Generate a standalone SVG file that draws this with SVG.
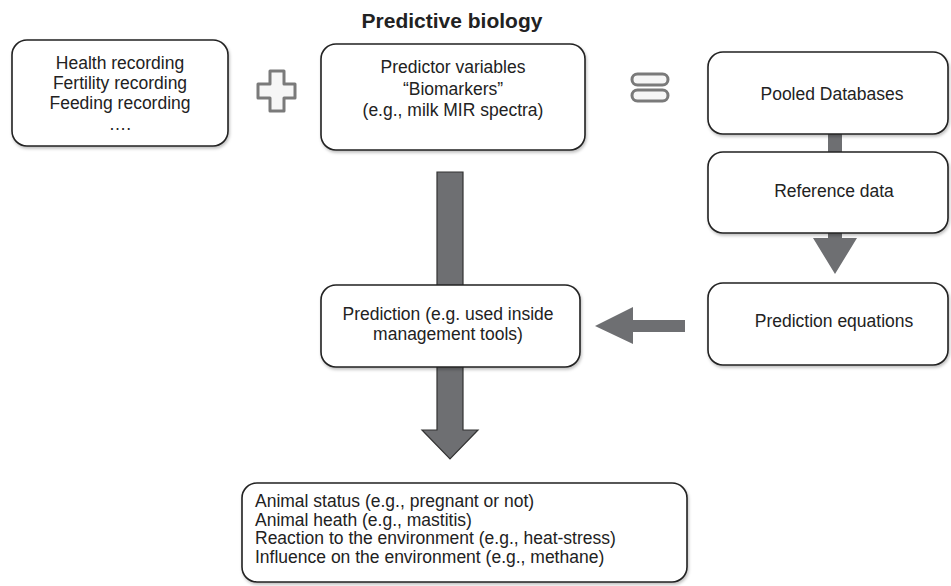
<svg xmlns="http://www.w3.org/2000/svg" width="951" height="586" viewBox="0 0 951 586">
<style>
.box{fill:#fff;stroke:#222;stroke-width:1.6;filter:url(#sh)}
.t{font-family:"Liberation Sans",Arial,sans-serif;font-size:17.5px;fill:#222}
.c{text-anchor:middle}
.arr{fill:#6e6f72}
.sym{fill:#f6f6f6;stroke:#7a7a7a;stroke-width:3}
</style>
<defs>
<filter id="sh" x="-10%" y="-10%" width="120%" height="130%">
<feDropShadow dx="1" dy="2" stdDeviation="1.5" flood-color="#000" flood-opacity="0.25"/>
</filter>
</defs>
<rect width="951" height="586" fill="#fff"/>
<text x="452" y="28" class="t c" style="font-weight:bold;font-size:21px">Predictive biology</text>
<g id="connectors">
<path class="arr" d="M437,172 H463 V430 H478 L450,459 L422,430 H437 Z" stroke="#333" stroke-width="1.2"/>
<path class="arr" d="M685,320 V332 H633 V344 L595,326 L633,307 V320 Z"/>
<rect class="arr" x="828" y="134" width="14" height="19"/>
<path class="arr" d="M828,233 H842 V238 H857 L835,274 L813,238 H828 Z"/>
</g>
<g id="plus"><path class="sym" d="M270,71 H284 V84 H295 V98 H284 V111 H270 V98 H258 V84 H270 Z" stroke-linejoin="round"/></g>
<g id="equals">
<rect class="sym" x="632" y="74" width="36" height="11" rx="5.5"/>
<rect class="sym" x="632" y="90" width="36" height="11" rx="5.5"/>
</g>
<g id="health">
<rect class="box" x="12" y="40" width="216" height="106" rx="15"/>
<text class="t c" x="120" y="69">Health recording</text>
<text class="t c" x="120" y="89">Fertility recording</text>
<text class="t c" x="120" y="109">Feeding recording</text>
<text class="t c" x="120" y="130">….</text>
</g>
<g id="predictor">
<rect class="box" x="321" y="44" width="264" height="106" rx="15"/>
<text class="t c" x="453" y="73">Predictor variables</text>
<text class="t c" x="453" y="95">“Biomarkers”</text>
<text class="t c" x="453" y="116">(e.g., milk MIR spectra)</text>
</g>
<g id="pooled">
<rect class="box" x="708" y="52" width="240" height="82" rx="15"/>
<text class="t c" x="832" y="100">Pooled Databases</text>
</g>
<g id="reference">
<rect class="box" x="708" y="152" width="240" height="81" rx="15"/>
<text class="t c" x="834" y="197">Reference data</text>
</g>
<g id="equations">
<rect class="box" x="708" y="283" width="240" height="82" rx="15"/>
<text class="t c" x="834" y="327">Prediction equations</text>
</g>
<g id="prediction">
<rect class="box" x="321" y="285" width="259" height="82" rx="15"/>
<text class="t c" x="448" y="320">Prediction (e.g. used inside</text>
<text class="t c" x="448" y="340">management tools)</text>
</g>
<g id="outcomes">
<rect class="box" x="242" y="483" width="445" height="99" rx="15"/>
<text class="t" x="255" y="507">Animal status (e.g., pregnant or not)</text>
<text class="t" x="255" y="525.5">Animal heath (e.g., mastitis)</text>
<text class="t" x="255" y="544">Reaction to the environment (e.g., heat-stress)</text>
<text class="t" x="255" y="562.5">Influence on the environment (e.g., methane)</text>
</g>
</svg>
